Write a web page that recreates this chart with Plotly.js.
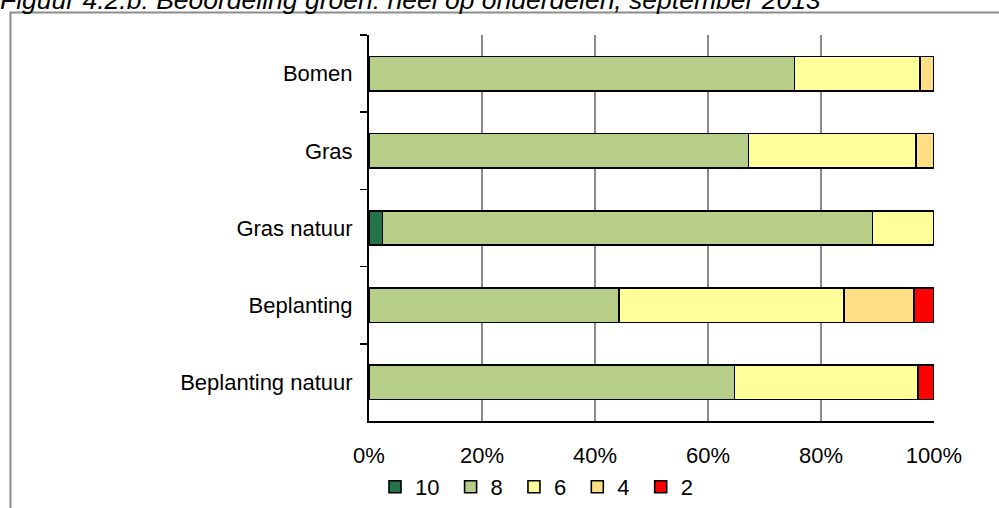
<!DOCTYPE html>
<html>
<head>
<meta charset="utf-8">
<script src="https://cdn.plot.ly/plotly-3.0.1.min.js"></script>
<style>html,body{margin:0;padding:0;background:#fff;}#chart{width:999px;height:508px;}</style>
</head>
<body>
<div id="chart"></div>
<script>
var categories = ["Bomen", "Gras", "Gras natuur", "Beplanting", "Beplanting natuur"];
var seriesNames = ["10", "8", "6", "4", "2"];
var s10 = [0, 0, 2.4, 0, 0];
var s8 = [75.3, 67.2, 86.7, 44.2, 64.7];
var s6 = [22.2, 29.6, 10.9, 39.9, 32.5];
var s4 = [2.5, 3.2, 0, 12.4, 0];
var s2 = [0, 0, 0, 3.5, 2.8];
var xTicks = [0, 20, 40, 60, 80, 100];
var titleText = "Figuur 4.2.b: Beoordeling groen: heel op onderdelen, september 2013";

var colors = ["#23744A", "#B7CE89", "#FFFF99", "#FFDF85", "#FF0000"];
var values = [s10, s8, s6, s4, s2];

var traces = values.map(function (v, i) {
  return {
    type: "bar",
    orientation: "h",
    name: seriesNames[i] + "\u00a0",
    y: categories,
    x: v,
    marker: { color: colors[i], line: { color: "#000", width: 1.6 } },
    hoverinfo: "x+y+name"
  };
});

// pixel geometry helpers (plot area: x 369..934, y 35..421)
var L = 369, R = 934, T = 35, B = 421;
function px(x) { return (x - L) / (R - L); }
function py(y) { return (B - y) / (B - T); }

var layout = {
  width: 999, height: 508,
  margin: { l: L, r: 999 - R, t: T, b: 508 - B, pad: 0 },
  paper_bgcolor: "#fff", plot_bgcolor: "#fff",
  font: { family: "Liberation Sans, Arial, sans-serif", size: 22, color: "#000" },
  barmode: "stack",
  bargap: 0.554,
  showlegend: true,
  title: {
    text: "<i>" + titleText + "</i>",
    font: { family: "Liberation Sans, Arial, sans-serif", size: 26.5, color: "#000" },
    xref: "container", yref: "container",
    x: 0, xanchor: "left", y: 1, yanchor: "middle"
  },
  xaxis: {
    range: [0, 100],
    tickvals: xTicks,
    ticktext: xTicks.map(function (t) { return t + "%"; }),
    showgrid: true, gridcolor: "#8a8a8a", gridwidth: 1.5,
    zeroline: false,
    showline: true, linecolor: "#000", linewidth: 2,
    ticks: "outside", ticklen: 14, tickcolor: "rgba(0,0,0,0)",
    fixedrange: true
  },
  yaxis: {
    type: "category",
    autorange: "reversed",
    showgrid: false, zeroline: false,
    showline: true, linecolor: "#000", linewidth: 2,
    ticks: "outside", tickson: "boundaries", ticklen: 7, tickwidth: 1.6, tickcolor: "#000",
    ticklabelstandoff: 10,
    fixedrange: true
  },
  legend: {
    orientation: "h",
    xref: "paper",
    x: px(540), xanchor: "center",
    yref: "container",
    y: (508 - 487) / 508, yanchor: "middle",
    font: { size: 22 },
    traceorder: "normal",
    itemwidth: 30,
    itemclick: false, itemdoubleclick: false
  },
  shapes: [{
    type: "path",
    xref: "paper", yref: "paper",
    path: "M " + px(10.5) + "," + py(520) + " L " + px(10.5) + "," + py(12.5) + " L " + px(1010) + "," + py(12.5),
    line: { color: "#8c8c8c", width: 2 }
  }]
};

Plotly.newPlot("chart", traces, layout, { displayModeBar: false, staticPlot: true });
</script>
</body>
</html>
